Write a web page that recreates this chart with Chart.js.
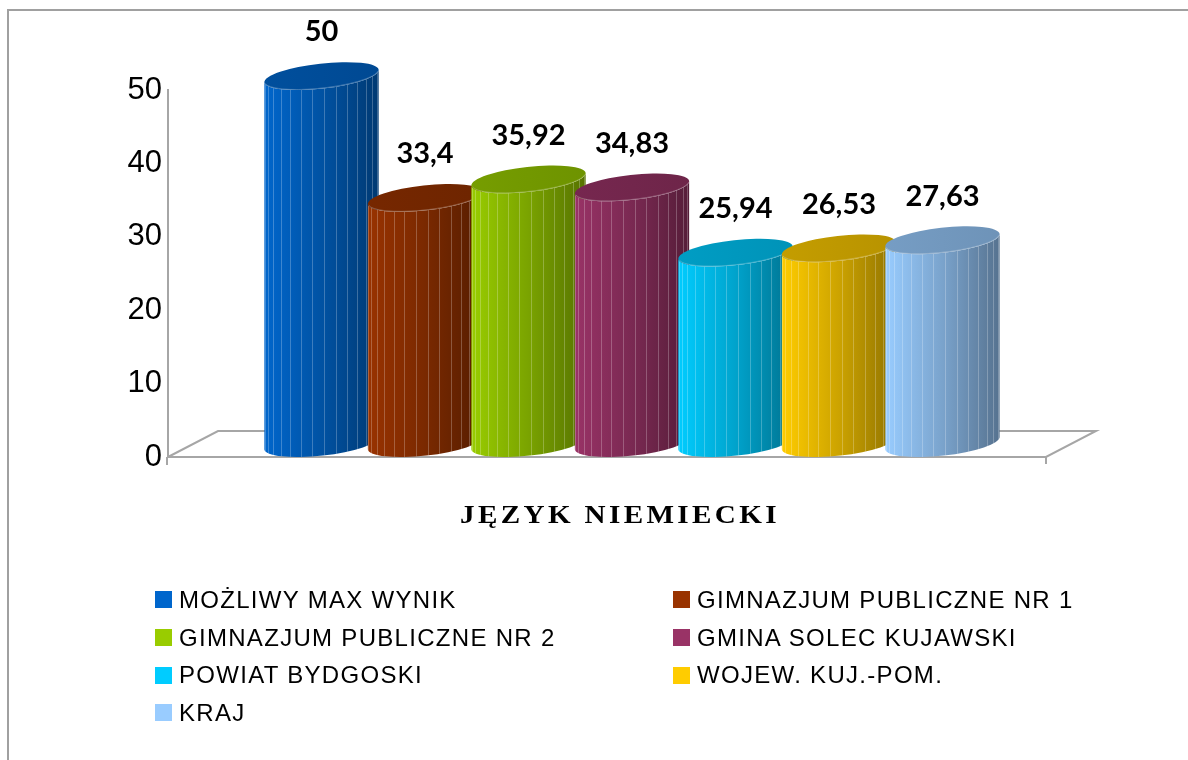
<!DOCTYPE html>
<html>
<head>
<meta charset="utf-8">
<script src="https://cdn.jsdelivr.net/npm/chart.js@4/dist/chart.umd.min.js"></script>
<style>
  html, body { margin: 0; padding: 0; background: #fff; overflow: hidden; }
  #wrap { position: relative; width: 1188px; height: 760px; overflow: hidden; }
  #frame { position: absolute; left: 7px; top: 9px; width: 1400px; height: 900px; border: 2px solid #a0a0a0; box-sizing: border-box; }
  #c { position: absolute; left: 0; top: 0; }
  #legend { position: absolute; left: 155px; top: 581px; display: grid; grid-template-columns: 518px auto; grid-auto-rows: 37.7px;
    font-family: 'Liberation Sans', Arial, sans-serif; font-size: 24px; letter-spacing: 1.3px; color: #000; }
  #legend .it { display: flex; align-items: center; white-space: nowrap; }
  #legend .bx { width: 17px; height: 17px; margin-right: 7px; flex: none; }
</style>
</head>
<body>
<div id="wrap">
  <div id="frame"></div>
  <canvas id="c" width="1188" height="760"></canvas>
  <div id="legend"></div>
</div>
<script>
const categories = ['JĘZYK NIEMIECKI'];
const seriesNames = ['MOŻLIWY MAX WYNIK', 'GIMNAZJUM PUBLICZNE NR 1', 'GIMNAZJUM PUBLICZNE NR 2', 'GMINA SOLEC KUJAWSKI', 'POWIAT BYDGOSKI', 'WOJEW. KUJ.-POM.', 'KRAJ'];
const seriesValues = [50, 33.4, 35.92, 34.83, 25.94, 26.53, 27.63];
const seriesColors = ['#0066CC', '#993300', '#99CC00', '#993366', '#00CCFF', '#FFCC00', '#99CCFF'];
const yTickValues = [0, 10, 20, 30, 40, 50];

function shade(hex, f) {
  const n = parseInt(hex.slice(1), 16);
  const r = Math.round(((n >> 16) & 255) * f), g = Math.round(((n >> 8) & 255) * f), b = Math.round((n & 255) * f);
  return `rgb(${r},${g},${b})`;
}

const floorPlugin = {
  id: 'floor',
  beforeDatasetsDraw(chart) {
    const { ctx, chartArea: { left, right, bottom } } = chart;
    const depth = 50, dy = 26;
    ctx.save();
    ctx.strokeStyle = '#a6a6a6';
    ctx.lineWidth = 2;
    ctx.beginPath();
    ctx.moveTo(left, bottom);
    ctx.lineTo(right - depth, bottom);
    ctx.lineTo(right, bottom - dy);
    ctx.lineTo(left + depth, bottom - dy);
    ctx.lineTo(left, bottom);
    ctx.moveTo(right - depth, bottom);
    ctx.lineTo(right - depth, bottom + 7);
    ctx.moveTo(left - 1, bottom);
    ctx.lineTo(left - 1, bottom + 8);
    ctx.stroke();
    ctx.restore();
  }
};

const categoryLabelPlugin = {
  id: 'catLabel',
  afterDraw(chart) {
    const { ctx, scales: { x }, chartArea } = chart;
    categories.forEach((c, i) => {
      ctx.save();
      ctx.translate(x.getPixelForValue(i) - 12, chartArea.bottom + 59);
      ctx.scale(1.12, 1);
      ctx.font = 'bold 26px "Liberation Serif", serif';
      if ('letterSpacing' in ctx) ctx.letterSpacing = '3px';
      ctx.fillStyle = '#000';
      ctx.textAlign = 'center';
      ctx.textBaseline = 'middle';
      ctx.fillText(c, 0, 0);
      ctx.restore();
    });
  }
};

const cylinderPlugin = {
  id: 'cylinders',
  beforeDatasetDraw() { return false; },
  afterDatasetsDraw(chart) {
    const ctx = chart.ctx;
    chart.data.datasets.forEach((ds, i) => {
      const meta = chart.getDatasetMeta(i);
      const base = ds.backgroundColor;
      meta.data.forEach((bar, j) => {
        const { x, y, base: b0, width } = bar.getProps(['x', 'y', 'base', 'width'], true);
        const rx = width / 2, ry = 12.5, rot = -0.11;
        const ext = Math.sqrt(rx * rx * Math.sin(rot) ** 2 + ry * ry * Math.cos(rot) ** 2);
        const cyTop = y - ext, cyBot = b0 - ext;
        ctx.save();
        ctx.beginPath();
        ctx.ellipse(x, cyBot, rx, ry, rot, 0, Math.PI, false);
        ctx.ellipse(x, cyTop, rx, ry, rot, Math.PI, 0, true);
        ctx.closePath();
        const g = ctx.createLinearGradient(x - rx, 0, x + rx, 0);
        g.addColorStop(0, base);
        g.addColorStop(0.08, shade(base, 0.97));
        g.addColorStop(0.5, shade(base, 0.8));
        g.addColorStop(1, shade(base, 0.56));
        ctx.fillStyle = g;
        ctx.fill();
        ctx.clip();
        ctx.strokeStyle = 'rgba(255,255,255,0.24)';
        ctx.lineWidth = 1;
        const N = 30;
        for (let k = 0; k < N; k++) {
          const a = k * 2 * Math.PI / N + 0.15;
          if (Math.sin(a) <= 0.02) continue;
          const sx = Math.round(x - rx * Math.cos(a) * 0.995) + 0.5;
          ctx.beginPath();
          ctx.moveTo(sx, cyTop - ry - 10);
          ctx.lineTo(sx, b0 + 5);
          ctx.stroke();
        }
        ctx.restore();
        ctx.save();
        ctx.beginPath();
        ctx.ellipse(x, cyTop, rx, ry, rot, 0, 2 * Math.PI);
        const gt = ctx.createLinearGradient(x - rx, 0, x + rx, 0);
        gt.addColorStop(0, shade(base, 0.77));
        gt.addColorStop(1, shade(base, 0.72));
        ctx.fillStyle = gt;
        ctx.fill();
        ctx.beginPath();
        ctx.ellipse(x, cyTop, rx - 0.5, ry - 0.5, rot, 0.1, Math.PI - 0.1, false);
        ctx.strokeStyle = 'rgba(255,255,255,0.25)';
        ctx.lineWidth = 1;
        ctx.stroke();
        ctx.restore();
        ctx.save();
        ctx.font = 'bold 29px Lato, "Open Sans", sans-serif';
        ctx.fillStyle = '#000';
        ctx.textAlign = 'center';
        ctx.textBaseline = 'middle';
        ctx.fillText(String(ds.data[j]).replace('.', ','), x, y - 58);
        ctx.restore();
      });
    });
  }
};

Chart.defaults.font.family = "'Liberation Sans', Arial, sans-serif";

const chart = new Chart(document.getElementById('c'), {
  type: 'bar',
  data: {
    labels: categories,
    datasets: seriesNames.map((name, i) => ({
      label: name,
      data: [seriesValues[i]],
      backgroundColor: seriesColors[i],
      categoryPercentage: 0.7807,
      barPercentage: 1.111
    }))
  },
  options: {
    responsive: false,
    animation: false,
    events: [],
    layout: { padding: { top: 90, right: 92, bottom: 203, left: 0 } },
    plugins: { legend: { display: false }, tooltip: { enabled: false } },
    scales: {
      x: {
        grid: { display: false, drawTicks: false },
        border: { display: false },
        ticks: { display: false },
        afterFit(s) { s.height = 100; }
      },
      y: {
        min: 0, max: 50,
        afterBuildTicks(s) { s.ticks = yTickValues.map(v => ({ value: v })); },
        grid: { display: false, drawTicks: false },
        border: { display: true, color: '#a6a6a6', width: 2 },
        ticks: { color: '#000', padding: 6, font: { size: 31 } },
        afterFit(s) { s.width = 168; }
      }
    }
  },
  plugins: [floorPlugin, cylinderPlugin, categoryLabelPlugin]
});

const lg = document.getElementById('legend');
chart.data.datasets.forEach(ds => {
  const it = document.createElement('div');
  it.className = 'it';
  const bx = document.createElement('span');
  bx.className = 'bx';
  bx.style.background = ds.backgroundColor;
  const tx = document.createElement('span');
  tx.textContent = ds.label;
  it.appendChild(bx);
  it.appendChild(tx);
  lg.appendChild(it);
});
</script>
</body>
</html>
